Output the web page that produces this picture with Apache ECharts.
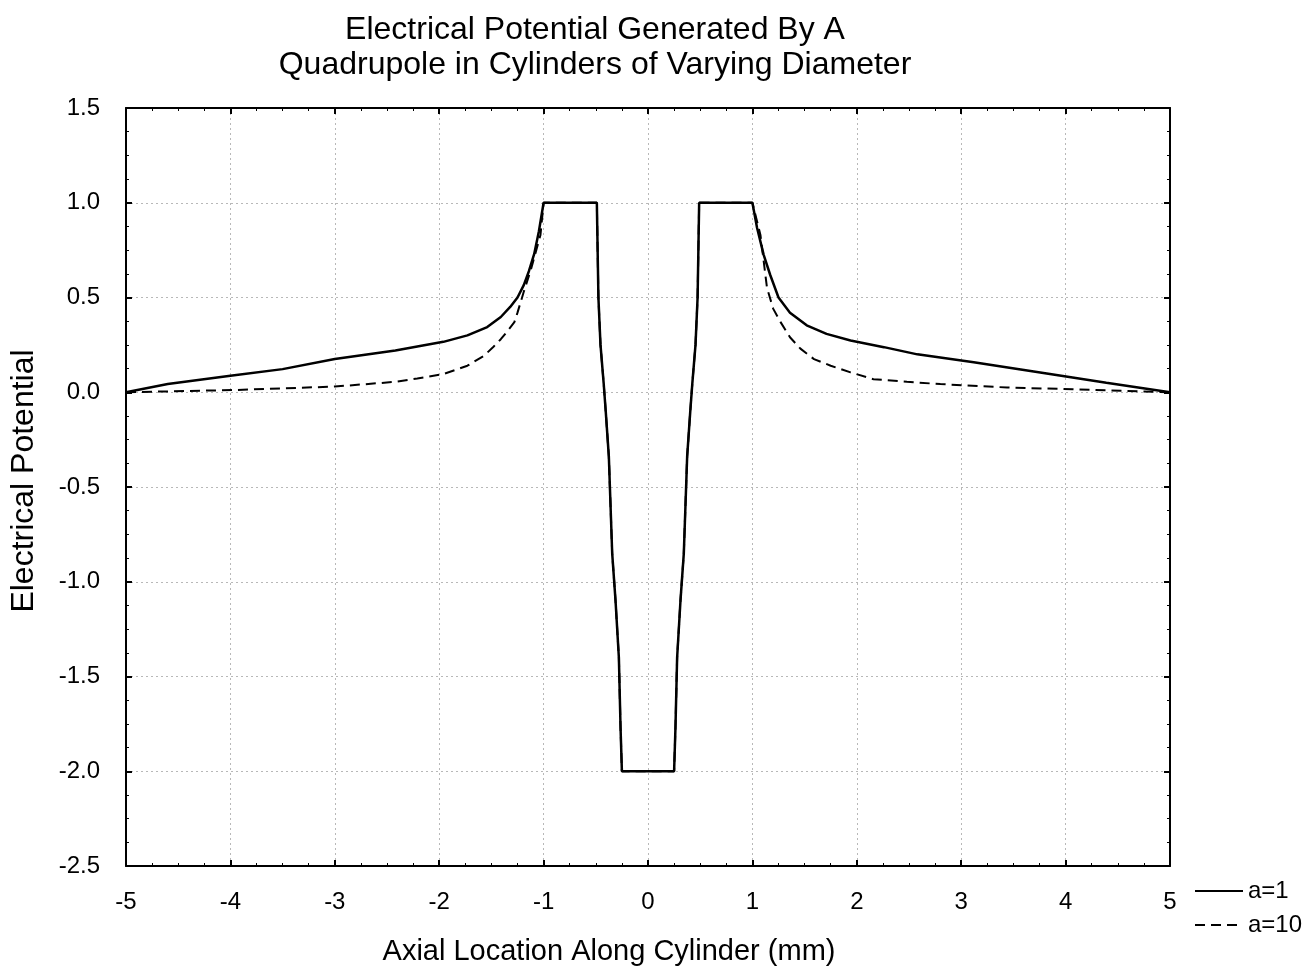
<!DOCTYPE html>
<html>
<head>
<meta charset="utf-8">
<script src="https://cdn.jsdelivr.net/npm/echarts@6/dist/echarts.min.js"></script>
<style>html,body{margin:0;padding:0;background:#fff;}#chart{width:1311px;height:972px;}</style>
</head>
<body>
<div id="chart"></div>
<script>
// a=1 (solid)
const xA1 = [-5, -4.6, -4, -3.5, -3, -2.42, -1.96, -1.73, -1.54, -1.41, -1.32, -1.25, -1.19, -1.14, -1.09, -1.045, -1.0,
  -0.49, -0.475, -0.455, -0.425, -0.405, -0.375, -0.343, -0.311, -0.279, -0.263, -0.25,
  0.25, 0.263, 0.279, 0.311, 0.343, 0.375, 0.405, 0.425, 0.455, 0.475, 0.49,
  1.0, 1.045, 1.108, 1.17, 1.25, 1.36, 1.52, 1.71, 1.94, 2.26, 2.58, 3.12, 3.85, 4.39, 5];
const yA1 = [0, 0.043, 0.087, 0.122, 0.175, 0.22, 0.266, 0.30, 0.344, 0.397, 0.45, 0.50, 0.565, 0.64, 0.73, 0.85, 1.0,
  1.0, 0.5, 0.25, 0.05, -0.1, -0.34, -0.85, -1.1, -1.4, -1.77, -2.0,
  -2.0, -1.77, -1.4, -1.1, -0.85, -0.34, -0.1, 0.05, 0.25, 0.5, 1.0,
  1.0, 0.867, 0.725, 0.62, 0.50, 0.42, 0.353, 0.308, 0.273, 0.238, 0.20, 0.158, 0.096, 0.05, 0];
// a=10 (dashed)
const xA10 = [-5, -3.95, -3, -2.42, -2.21, -1.96, -1.73, -1.57, -1.48, -1.41, -1.35, -1.28, -1.25, -1.19, -1.12, -1.03, -1.0,
  -0.49, -0.475, -0.455, -0.425, -0.405, -0.375, -0.343, -0.311, -0.279, -0.263, -0.25,
  0.25, 0.263, 0.279, 0.311, 0.343, 0.375, 0.405, 0.425, 0.455, 0.475, 0.49,
  1.0, 1.077, 1.14, 1.20, 1.27, 1.36, 1.46, 1.59, 1.75, 1.94, 2.16, 2.48, 2.8, 3.44, 4.07, 5];
const yA10 = [0, 0.012, 0.03, 0.055, 0.073, 0.096, 0.14, 0.193, 0.24, 0.28, 0.32, 0.37, 0.42, 0.53, 0.65, 0.83, 1.0,
  1.0, 0.5, 0.25, 0.05, -0.1, -0.34, -0.85, -1.1, -1.4, -1.77, -2.0,
  -2.0, -1.77, -1.4, -1.1, -0.85, -0.34, -0.1, 0.05, 0.25, 0.5, 1.0,
  1.0, 0.83, 0.55, 0.44, 0.37, 0.29, 0.23, 0.175, 0.14, 0.105, 0.069, 0.055, 0.043, 0.025, 0.016, 0];
const seriesNames = ['a=1', 'a=10'];
const titleLines = ['Electrical Potential Generated By A', 'Quadrupole in Cylinders of Varying Diameter'];

const pairs = (xs, ys) => xs.map((x, i) => [x, ys[i]]);
const FONT = 'Liberation Sans, Arial, sans-serif';
const gridLine = { show: true, lineStyle: { color: '#b8b8b8', type: [2, 3], width: 1 } };
const baseX = {
  type: 'value', min: -5, max: 5, interval: 1,
  axisLine: { show: true, onZero: false, lineStyle: { color: '#000', width: 2 } },
  axisTick: { show: true, inside: true, length: 6, lineStyle: { color: '#000', width: 2 } },
  minorTick: { show: true, splitNumber: 4, length: 3, lineStyle: { color: '#000', width: 1 } }
};
const baseY = {
  type: 'value', min: -2.5, max: 1.5, interval: 0.5,
  axisLine: { show: true, onZero: false, lineStyle: { color: '#000', width: 2 } },
  axisTick: { show: true, inside: true, length: 6, lineStyle: { color: '#000', width: 2 } },
  minorTick: { show: true, splitNumber: 4, length: 3, lineStyle: { color: '#000', width: 1 } }
};

const chart = echarts.init(document.getElementById('chart'));
chart.setOption({
  backgroundColor: '#fff',
  animation: false,
  title: {
    text: titleLines.join('\n'),
    left: 590, top: 8, textAlign: 'center',
    textStyle: { fontFamily: FONT, fontSize: 32, fontWeight: 'normal', color: '#000', lineHeight: 35 }
  },
  legend: {
    orient: 'vertical', left: 1189, top: 874,
    itemWidth: 48, itemHeight: 14, itemGap: 10,
    itemStyle: { opacity: 0 },
    textStyle: { fontFamily: FONT, fontSize: 24, color: '#000' },
    data: seriesNames
  },
  grid: { left: 125, right: 141, top: 108, bottom: 106, containLabel: false },
  xAxis: [
    Object.assign({}, baseX, {
      position: 'bottom',
      name: 'Axial Location Along Cylinder (mm)', nameLocation: 'middle', nameGap: 71,
      nameTextStyle: { fontFamily: FONT, fontSize: 29, color: '#000', padding: [0, 78, 0, 0] },
      axisLabel: { fontFamily: FONT, fontSize: 24, color: '#000', margin: 24 },
      splitLine: gridLine
    }),
    Object.assign({}, baseX, { position: 'top', axisLabel: { show: false }, splitLine: { show: false } })
  ],
  yAxis: [
    Object.assign({}, baseY, {
      position: 'left',
      name: 'Electrical Potential', nameLocation: 'middle', nameGap: 86, nameRotate: 90,
      nameTextStyle: { fontFamily: FONT, fontSize: 32, color: '#000', padding: [0, 0, 0, 12] },
      axisLabel: { fontFamily: FONT, fontSize: 24, color: '#000', margin: 26, formatter: v => v.toFixed(1) },
      splitLine: gridLine
    }),
    Object.assign({}, baseY, { position: 'right', axisLabel: { show: false }, splitLine: { show: false } })
  ],
  series: [
    {
      name: seriesNames[1], type: 'line', data: pairs(xA10, yA10), symbol: 'none', z: 2,
      lineStyle: { color: '#000', width: 2, type: [10, 6] }, itemStyle: { color: '#000' }
    },
    {
      name: seriesNames[0], type: 'line', data: pairs(xA1, yA1), symbol: 'none', z: 3,
      lineStyle: { color: '#000', width: 2.5, type: 'solid' }, itemStyle: { color: '#000' }
    }
  ]
});
</script>
</body>
</html>
